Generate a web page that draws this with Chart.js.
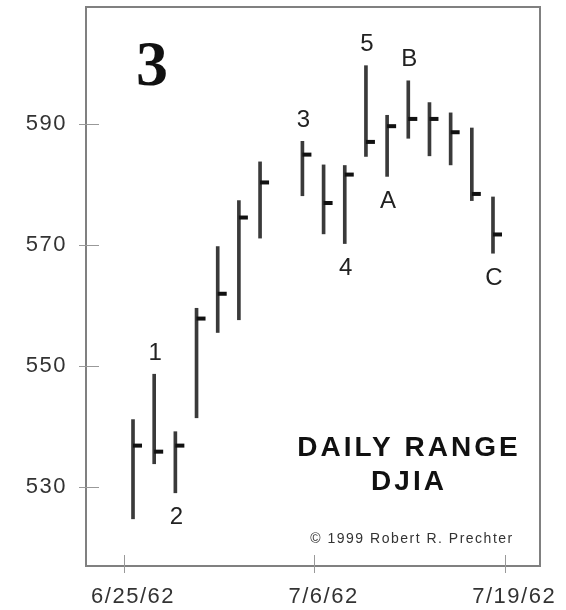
<!DOCTYPE html>
<html>
<head>
<meta charset="utf-8">
<script src="https://cdn.jsdelivr.net/npm/chart.js@4.4.1/dist/chart.umd.min.js"></script>
<style>
  html, body { margin: 0; padding: 0; background: #fff; }
  canvas { display: block; }
</style>
</head>
<body>
<canvas id="dailyRange" width="566" height="610"></canvas>
<script>
// DJIA daily ranges, summer 1962. slot = weekday count from 6/25 (7/4 holiday has no bar)
const sessions = ['6/25','6/26','6/27','6/28','6/29','7/2','7/3','7/5','7/6','7/9','7/10','7/11','7/12','7/13','7/16','7/17','7/18'];
const slots = [0, 1, 2, 3, 4, 5, 6, 8, 9, 10, 11, 12, 13, 14, 15, 16, 17];
const highs = [541.1, 548.6, 539.1, 559.5, 569.7, 577.3, 583.7, 587.1, 583.2, 583.1, 599.6, 591.4, 597.1, 593.5, 591.8, 589.3, 577.9];
const lows = [524.7, 533.8, 529.0, 541.4, 555.5, 557.6, 571.1, 578.1, 571.8, 570.2, 584.6, 581.3, 587.6, 584.7, 583.2, 577.3, 568.6];
const closes = [536.8, 535.8, 536.8, 557.8, 561.9, 574.5, 580.3, 584.9, 576.9, 581.6, 587.0, 589.6, 590.8, 590.8, 588.6, 578.4, 571.7];

// wave count labels: which bar, text, above (high) or below (low)
const waveBars = [1, 2, 7, 9, 10, 11, 12, 16];
const waveNames = ['1', '2', '3', '4', '5', 'A', 'B', 'C'];
const waveAbove = [true, false, true, false, true, false, true, false];

const yTicks = [530, 550, 570, 590];
const xTickSlots = [0, 9, 18];
const xTickLabels = ['6/25/62', '7/6/62', '7/19/62'];

const SANS = '"Liberation Sans", Arial, sans-serif';

// frame, tick marks, close ticks and the notes
const extras = {
    id: 'extras',
    beforeDraw(chart) {
        chart.ctx.letterSpacing = '1.5px';
    },
    afterDatasetsDraw(chart) {
        const { ctx, chartArea: a, scales: { x, y } } = chart;
        ctx.save();

        // close ticks on the right of each bar
        ctx.fillStyle = '#111';
        closes.forEach((c, i) => {
            const px = x.getPixelForValue(slots[i]);
            const py = y.getPixelForValue(c);
            ctx.fillRect(px, py - 2, 9, 4);
        });

        // box
        ctx.strokeStyle = '#808080';
        ctx.lineWidth = 2;
        ctx.strokeRect(a.left, a.top, a.right - a.left, a.bottom - a.top);

        // tick marks cross the frame (x marks sit a bit left of the label)
        ctx.strokeStyle = '#999';
        ctx.lineWidth = 1;
        ctx.beginPath();
        yTicks.forEach(v => {
            const py = Math.round(y.getPixelForValue(v)) + 0.5;
            ctx.moveTo(a.left - 7, py);
            ctx.lineTo(a.left + 13, py);
        });
        xTickSlots.forEach(v => {
            const px = Math.round(x.getPixelForValue(v - 0.44)) + 0.5;
            ctx.moveTo(px, a.bottom - 11);
            ctx.lineTo(px, a.bottom + 7);
        });
        ctx.stroke();

        // wave labels
        ctx.letterSpacing = '0px';
        ctx.fillStyle = '#222';
        ctx.font = '24px ' + SANS;
        ctx.textAlign = 'center';
        ctx.textBaseline = 'middle';
        waveBars.forEach((b, i) => {
            const px = x.getPixelForValue(slots[b]);
            const py = waveAbove[i] ? y.getPixelForValue(highs[b]) - 21 : y.getPixelForValue(lows[b]) + 25;
            ctx.fillText(waveNames[i], px + 1, py);
        });

        // figure number
        ctx.fillStyle = '#111';
        ctx.font = 'bold 64px "Liberation Serif", "Times New Roman", serif';
        ctx.textBaseline = 'alphabetic';
        ctx.fillText('3', 152, 85);

        // title block
        ctx.textBaseline = 'middle';
        ctx.font = 'bold 28px ' + SANS;
        ctx.letterSpacing = '3px';
        ctx.fillText('DAILY RANGE', 409, 448);
        ctx.fillText('DJIA', 409, 482);

        ctx.font = '14px ' + SANS;
        ctx.letterSpacing = '1.5px';
        ctx.fillStyle = '#333';
        ctx.fillText('\u00A9 1999 Robert R. Prechter', 412, 539);

        ctx.restore();
    }
};

new Chart(document.getElementById('dailyRange'), {
    type: 'bar',
    data: {
        datasets: [{
            label: 'DJIA',
            data: slots.map((s, i) => ({ x: s, y: [lows[i], highs[i]] })),
            backgroundColor: '#3a3a3a',
            borderWidth: 0,
            barThickness: 3
        }]
    },
    options: {
        responsive: false,
        animation: false,
        layout: { padding: { top: 7, right: 26, left: 0, bottom: 0 } },
        plugins: { legend: { display: false }, tooltip: { enabled: false } },
        scales: {
            x: {
                type: 'linear',
                offset: false,
                min: -2.22,
                max: 19.22,
                grid: { display: false, drawTicks: false, offset: false },
                border: { display: false },
                afterBuildTicks: s => { s.ticks = xTickSlots.map(v => ({ value: v })); },
                afterFit: s => { s.height = 44; s.paddingLeft = 0; s.paddingRight = 0; },
                ticks: {
                    autoSkip: false,
                    maxRotation: 0,
                    padding: 18,
                    color: '#333',
                    font: { family: SANS, size: 22 },
                    callback: (v, i) => xTickLabels[i]
                }
            },
            y: {
                min: 516.9,
                max: 609.3,
                grid: { display: false, drawTicks: false },
                border: { display: false },
                afterBuildTicks: s => { s.ticks = yTicks.map(v => ({ value: v })); },
                afterFit: s => { s.width = 86; s.paddingTop = 0; s.paddingBottom = 0; },
                ticks: {
                    padding: 19,
                    color: '#333',
                    font: { family: SANS, size: 22 }
                }
            }
        }
    },
    plugins: [extras]
});
</script>
</body>
</html>
